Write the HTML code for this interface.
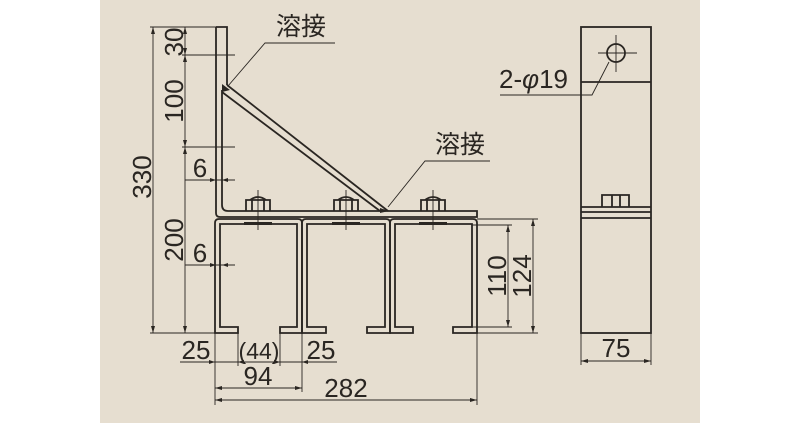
<!DOCTYPE html>
<html><head><style>
html,body{margin:0;padding:0;background:#fff;}
svg{display:block;}
text{font-family:"Liberation Sans","Noto Sans CJK JP",sans-serif;fill:#2a2622;}
</style></head><body>
<svg width="800" height="423" viewBox="0 0 800 423" xmlns="http://www.w3.org/2000/svg">
<rect x="0" y="0" width="800" height="423" fill="#fff"/>
<rect x="100" y="0" width="600" height="423" fill="#e6ded0"/>
<g stroke="#2a2622" fill="none" stroke-width="1.8">
<path d="M216 27 V213 Q216 217 220 217 H477 V211 H228 Q222 211 222 205 V90"/>
<path d="M216 27 H227 V85"/>
<path d="M227 85 L388 211 M222 92 L380 211"/>
<path d="M215 333 V223 Q215 219 219 219 H298 Q302 219 302 223 V333 H280 V327 H297 V224 H220 V327 H238 V333 Z"/>
<path d="M302 333 V223 Q302 219 306 219 H386 Q390 219 390 223 V333 H367 V327 H385 V224 H307 V327 H326 V333 Z"/>
<path d="M390 333 V223 Q390 219 394 219 H473 Q477 219 477 223 V333 H453 V327 H472 V224 H395 V327 H413 V333 Z"/>
<path d="M246 211 V200 H270 V211 M252 200 V211 M264 200 V211 M250 200 Q258 194 266 200"/>
<path d="M334 211 V200 H358 V211 M340 200 V211 M352 200 V211 M338 200 Q346 194 354 200"/>
<path d="M421 211 V200 H445 V211 M427 200 V211 M439 200 V211 M425 200 Q433 194 441 200"/>
<rect x="581" y="27" width="70" height="306"/>
<path d="M581 82 H651 M581 207 H651 M581 212 H651 M581 218 H651"/>
<path d="M602 207 V195 H629 V207 M612 195 V207 M620 195 V207"/>
<circle cx="616" cy="53" r="9"/>
</g>
<g fill="#2a2622">
<rect x="244" y="222" width="28" height="3"/><rect x="332" y="222" width="28" height="3"/><rect x="419" y="222" width="28" height="3"/>
<path d="M222 84 L230 90 L222 92Z"/><path d="M380 208 L389 211 L380 213Z"/>
</g>
<g stroke="#2a2622" fill="none" stroke-width="0.9">
<path d="M258 190 V230 M346 190 V230 M433 190 V230 M616 35 V72 M598 53 H637"/>
<path d="M335 43 H265 L228 86 M490 161 H425 L388 207 M500 95 H592 L609 62"/>
<path d="M153 27 V333 M185 27 V333 M150 27 H216 M150 333 H215 M182 55 H235 M182 147 H235"/>
<path d="M185 180 H235 M185 265 H235"/>
<path d="M215 333 V405 M238 333 V366 M280 333 V366 M302 333 V392 M477 333 V405"/>
<path d="M180 362 H337 M215 388 H302 M215 400 H477"/>
<path d="M477 219 H538 M477 333 H538 M472 225 H512 M472 327 H512 M533 219 V333 M508 225 V327"/>
<path d="M581 333 V365 M651 333 V365 M581 361 H651"/>
</g>
<g fill="#2a2622">
<path d="M153 27 l-2 7 h4z M153 333 l-2 -7 h4z M185 27 l-2 7 h4z M185 55 l-2 -7 h4z M185 55 l-2 7 h4z M185 147 l-2 -7 h4z M185 147 l-2 7 h4z M185 333 l-2 -7 h4z"/>
<path d="M533 219 l-2 7 h4z M533 333 l-2 -7 h4z M508 225 l-2 7 h4z M508 327 l-2 -7 h4z"/>
<path d="M215 388 l7 -2 v4z M302 388 l-7 -2 v4z M215 400 l7 -2 v4z M477 400 l-7 -2 v4z M581 361 l7 -2 v4z M651 361 l-7 -2 v4z"/>
<path d="M215 362 l-6 -2 v4z M238 362 l6 -2 v4z M280 362 l-6 -2 v4z M302 362 l6 -2 v4z M216 180 l-6 -2 v4z M222 180 l6 -2 v4z M216 265 l-6 -2 v4z M222 265 l6 -2 v4z"/>
</g>
<g font-size="26">
<text x="276" y="35" font-size="25">溶接</text>
<text x="435" y="153" font-size="25">溶接</text>
<text x="499" y="88">2-<tspan font-style="italic">φ</tspan>19</text>
<text transform="translate(151,177) rotate(-90)" text-anchor="middle">330</text>
<text transform="translate(183,42) rotate(-90)" text-anchor="middle">30</text>
<text transform="translate(183,101) rotate(-90)" text-anchor="middle">100</text>
<text transform="translate(183,240) rotate(-90)" text-anchor="middle">200</text>
<text x="200" y="177" text-anchor="middle">6</text>
<text x="200" y="262" text-anchor="middle">6</text>
<text transform="translate(506,276) rotate(-90)" text-anchor="middle">110</text>
<text transform="translate(531,276) rotate(-90)" text-anchor="middle">124</text>
<text x="196" y="359" text-anchor="middle">25</text>
<text x="259" y="359" text-anchor="middle" font-size="23">(44)</text>
<text x="321" y="359" text-anchor="middle">25</text>
<text x="258" y="385" text-anchor="middle">94</text>
<text x="346" y="397" text-anchor="middle">282</text>
<text x="616" y="357" text-anchor="middle">75</text>
</g>
</svg>
</body></html>
